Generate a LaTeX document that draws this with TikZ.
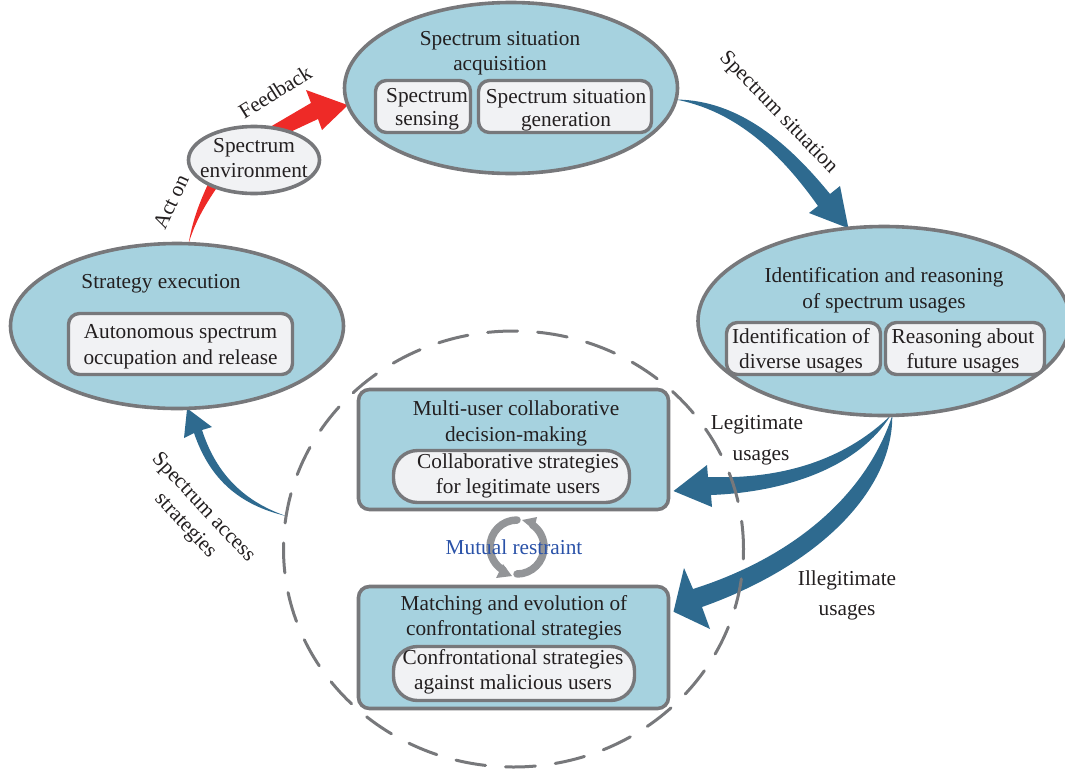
\documentclass[tikz,border=0pt]{standalone}
\usepackage{fontspec}
\setmainfont{Liberation Serif}
\usetikzlibrary{shapes.geometric}
\pgfdeclarelayer{back}
\pgfsetlayers{back,main}
\definecolor{fillblue}{HTML}{A6D2DF}
\definecolor{fillgrey}{HTML}{F1F2F4}
\definecolor{edgegrey}{HTML}{77787B}
\definecolor{arrowblue}{HTML}{2E6A8F}
\definecolor{arrowred}{HTML}{EE2A27}
\definecolor{cyclegrey}{HTML}{939598}
\definecolor{mutualblue}{HTML}{2A52A8}
\definecolor{inkgrey}{HTML}{231F20}
\tikzset{
 x=1pt,y=-1pt,
 every node/.style={font=\fontsize{21.3}{25.5}\selectfont,align=center,text=inkgrey,inner sep=0pt,outer sep=0pt},
 bigell/.style={draw=edgegrey,line width=3.6pt,fill=fillblue,ellipse,minimum width=#1},
 panel/.style={draw=edgegrey,line width=3.4pt,fill=fillgrey,rectangle,rounded corners=11pt},
 pill/.style={draw=edgegrey,line width=3.4pt,fill=fillgrey,rectangle,rounded corners=24pt},
 outerbox/.style={draw=edgegrey,line width=3.6pt,fill=fillblue,rectangle,rounded corners=11pt,minimum width=310pt,minimum height=120pt},
 cyc/.style={cyclegrey,line width=7.5pt},
}
\begin{document}
\begin{tikzpicture}
\useasboundingbox (0,0) rectangle (1065,769);
% ellipses
\node[bigell=333pt,minimum height=171pt] (acq) at (511,88) {};
\node[bigell=372pt,minimum height=189pt] (ident) at (884,321) {};
\node[bigell=333pt,minimum height=165pt] (exec) at (177,326) {};
\node[draw=edgegrey,line width=3.6pt,fill=fillgrey,ellipse,minimum width=131pt,minimum height=67pt] (env) at (254,160) {};
\node (envt) at (254,158) {Spectrum\\environment};
% boxes
\node[outerbox] (multi) at (513.5,449.5) {};
\node[outerbox,minimum height=122pt] (match) at (513.5,647.5) {};
% titles
\node (acqt) at (500,53) {Spectrum situation\\acquisition};
\node (identt) at (884,290.5) {Identification and reasoning\\of spectrum usages};
\node (exect) at (161,284) {Strategy execution};
\node (multit) at (516,423.5) {Multi-user collaborative\\decision-making};
\node (matcht) at (514,618) {Matching and evolution of\\confrontational strategies};
% panels
\node[panel,minimum width=95pt,minimum height=52pt] (sens) at (423,106.5) {};
\node (senst) at (427,109) {Spectrum\\[-2pt]sensing};
\node[panel,minimum width=173pt,minimum height=52pt] (gen) at (565,106.5) {};
\node (gent) at (566,110) {Spectrum situation\\[-3pt]generation};
\node[panel,minimum width=154pt,minimum height=52pt] (divu) at (803.5,348.5) {};
\node (divt) at (801,351) {Identification of\\diverse usages};
\node[panel,minimum width=159pt,minimum height=52pt] (futu) at (965,348.5) {};
\node (futt) at (963,351) {Reasoning about\\future usages};
\node[panel,minimum width=224pt,minimum height=61pt] (auto) at (180.5,344) {};
\node (autot) at (180.5,346.5) {Autonomous spectrum\\occupation and release};
\node[pill,minimum width=236pt,minimum height=52pt] (coll) at (511.5,476.5) {};
\node (collt) at (518,476) {Collaborative strategies\\for legitimate users};
\node[pill,minimum width=241pt,minimum height=54pt] (conf) at (514,673.5) {};
\node (conft) at (513,672) {Confrontational strategies\\against malicious users};
% connector end points on the nodes
\coordinate (acton-from) at (exec.82);
\coordinate (fb-to) at (acq.186);
\coordinate (sit-from) at (acq.-4);
\coordinate (sit-to) at (ident.111);
\coordinate (leg-from) at (ident.-86);
\coordinate (leg-to) at ([xshift=5pt]multi.-15);
\coordinate (ill-from) at (ident.-85);
\coordinate (ill-to) at ([xshift=5pt]match.13);
\coordinate (acc-to) at (exec.-83);
\coordinate (acc-from) at (286,516);
\begin{pgfonlayer}{back}
% red
\fill[arrowred] (acton-from) .. controls (193,218) and (200,202) .. (208,184) -- (218,186) .. controls (205,205) and (195,222) .. (acton-from) -- cycle;
\fill[arrowred] (270,127) -- (311,103) -- (306,90) -- (fb-to) -- (322,130) -- (318,119) -- (288,133) -- cycle;
% blue
\fill[arrowblue] (sit-from) .. controls (740,100) and (790,145) .. (830,194) -- (840,186) -- (sit-to) -- (809,213) -- (818,206) .. controls (775,145) and (730,110) .. (sit-from) -- cycle;
\fill[arrowblue] (leg-from) .. controls (850,455) and (790,480) .. (708,477) -- (707,465) -- (leg-to) -- (712,507) -- (711,495) .. controls (790,492) and (860,465) .. (leg-from) -- cycle;
\fill[arrowblue] (ill-from) .. controls (868,490) and (800,555) .. (693,589) -- (684,568) -- (ill-to) -- (710,629) -- (702,607) .. controls (820,565) and (893,490) .. (ill-from) -- cycle;
\fill[arrowblue] (acc-from) .. controls (240,500) and (215,470) .. (202,430) -- (212,427) -- (acc-to) -- (184,438) -- (194,433) .. controls (210,480) and (240,505) .. (acc-from) -- cycle;
% dashed circle
\draw[edgegrey,line width=3pt,line cap=round,dash pattern=on 30pt off 20pt,dash phase=20pt] (513.5,549) ellipse (230 and 218);
% cycle arrows
\draw[cyc,line cap=round] (517,520) arc[start angle=-90,delta angle=-150,radius=27];
\fill[cyclegrey] (512,576) -- (496,578) -- (503,564) -- cycle;
\draw[cyc,line cap=round] (517,574) arc[start angle=90,delta angle=-145,radius=27];
\fill[cyclegrey] (522,520) -- (537,517) -- (534,530) -- cycle;
\end{pgfonlayer}
% labels
\node[rotate=32] (lfb) at (275,92) {Feedback};
\node[rotate=65] (lact) at (171,202) {Act on};
\node[rotate=-46] (lsit) at (778,113) {Spectrum situation};
\node[rotate=-47] (lacc) at (203,508) {Spectrum access};
\node[rotate=-47] (lstr) at (185,526) {strategies};
\node (lleg) at (757,425) {Legitimate};
\node (lleg2) at (761,457) {usages};
\node (lill) at (847,580) {Illegitimate};
\node (lill2) at (847,612) {usages};
\node[text=mutualblue] (lmut) at (514,547) {Mutual restraint};
\end{tikzpicture}
\end{document}
